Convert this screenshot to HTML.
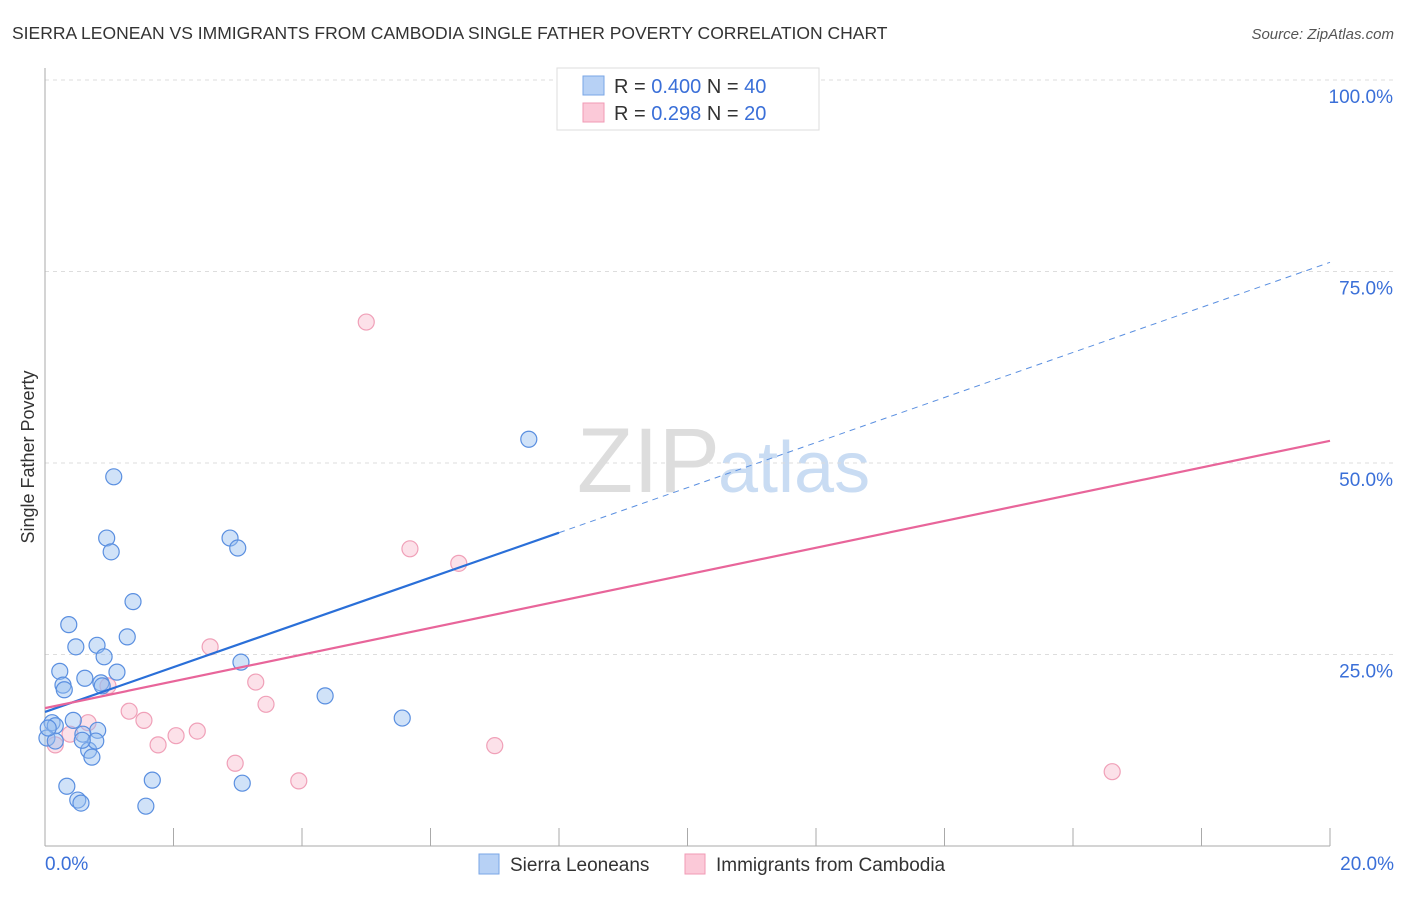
<!DOCTYPE html>
<html><head><meta charset="utf-8"><style>
body{margin:0;background:#fff;font-family:"Liberation Sans",sans-serif}
svg text{font-family:"Liberation Sans",sans-serif}
</style></head><body>
<svg id="c" width="1406" height="892" xmlns="http://www.w3.org/2000/svg">
<text x="12" y="39" font-size="17.5" fill="#333">SIERRA LEONEAN VS IMMIGRANTS FROM CAMBODIA SINGLE FATHER POVERTY CORRELATION CHART</text>
<text x="1394" y="39" font-size="15" fill="#555" font-style="italic" text-anchor="end">Source: ZipAtlas.com</text>
<text x="720" y="492" font-size="92" fill="#ddd" text-anchor="end" font-family="Liberation Serif">ZIP</text>
<text x="718" y="492" font-size="72" fill="#c9dcf3">atlas</text>
<text transform="translate(34,457) rotate(-90)" font-size="18" fill="#333" text-anchor="middle">Single Father Poverty</text>
<g id="grid"></g><g id="pts"></g><g id="lines"></g>
<g>
<rect x="557" y="68" width="262" height="62" fill="#fff" stroke="#ddd"/>
<rect x="583" y="76" width="21" height="19" fill="#b7d1f5" stroke="#7aa6e6"/>
<rect x="583" y="103" width="21" height="19" fill="#fbc9d8" stroke="#f09ab5"/>
<text x="614" y="93" font-size="20" fill="#333">R = <tspan fill="#3a6fd8">0.400</tspan>   N = <tspan fill="#3a6fd8">40</tspan></text>
<text x="614" y="120" font-size="20" fill="#333">R =  <tspan fill="#3a6fd8">0.298</tspan>   N = <tspan fill="#3a6fd8">20</tspan></text>
</g>
<g>
<rect x="479" y="854" width="20" height="20" fill="#b7d1f5" stroke="#7aa6e6"/>
<text x="510" y="871" font-size="19" fill="#333">Sierra Leoneans</text>
<rect x="685" y="854" width="20" height="20" fill="#fbc9d8" stroke="#f09ab5"/>
<text x="716" y="871" font-size="19" fill="#333">Immigrants from Cambodia</text>
</g>
</svg>
<script>
const blueX=[1.07,0.96,1.03,1.37,0.37,0.48,0.81,1.28,0.23,0.92,1.12,0.28,0.30,0.62,0.87,0.89,2.88,3.00,3.05,4.36,5.56,7.53,0.11,0.16,0.44,0.82,0.59,0.68,0.73,0.79,0.03,0.16,0.34,0.51,0.56,1.67,1.57,3.07,0.05,0.58];
const blueY=[48.2,40.2,38.4,31.9,28.9,26.0,26.2,27.3,22.8,24.7,22.7,21.0,20.4,21.9,21.3,20.9,40.2,38.9,24.0,19.6,16.7,53.1,16.1,15.7,16.4,15.1,14.6,12.5,11.6,13.7,14.1,13.7,7.8,6.0,5.6,8.6,5.2,8.2,15.4,13.8];
const pinkX=[9.03,5.0,5.68,6.44,2.57,3.28,3.44,1.31,1.54,0.67,1.76,2.04,2.37,2.96,3.95,7.0,16.61,0.39,0.16,0.98];
const pinkY=[100,68.4,38.8,36.9,26.0,21.4,18.5,17.6,16.4,16.1,13.2,14.4,15.0,10.8,8.5,13.1,9.7,14.6,13.2,20.9];
const blueTrend=[[0,17.5],[8.0,40.9],[20,76.2]];
const pinkTrend=[[0,18.0],[20,52.9]];
const yTicks=[25,50,75,100];
const yTickLabels=["25.0%","50.0%","75.0%","100.0%"];
const xTicks=[0,2,4,6,8,10,12,14,16,18,20];
const NS="http://www.w3.org/2000/svg";
const sx=v=>45+v*64.25, sy=v=>846-v*7.66;
function mk(p,t,a){const e=document.createElementNS(NS,t);for(const k in a)e.setAttribute(k,a[k]);p.appendChild(e);return e;}
const svg=document.getElementById('c'),grid=document.getElementById('grid'),pts=document.getElementById('pts'),lines=document.getElementById('lines');
yTicks.forEach((t,i)=>{
 const l=mk(grid,'line',{x1:45,x2:1394,y1:sy(t),y2:sy(t),stroke:'#ddd','stroke-dasharray':'4,4'});
 
 
 const tx=mk(grid,'text',{x:1393,y:sy(t)+23,'font-size':19,fill:'#3a6fd8','text-anchor':'end'});
 tx.textContent=yTickLabels[i];
 
 
});
mk(grid,'line',{x1:45,x2:45,y1:68,y2:846,stroke:'#aaa'});
mk(grid,'line',{x1:45,x2:1330,y1:846,y2:846,stroke:'#aaa'});
xTicks.forEach(t=>{const l=mk(grid,'line',{x1:sx(t),x2:sx(t),y1:828,y2:846,stroke:'#aaa'});
 
 });
const xl0=mk(grid,'text',{x:45,y:870,'font-size':19,fill:'#3a6fd8'});xl0.textContent='0.0%';


const xl1=mk(grid,'text',{x:1394,y:870,'font-size':19,fill:'#3a6fd8','text-anchor':'end'});xl1.textContent='20.0%';


pinkX.forEach((x,i)=>{const c=mk(pts,'circle',{cx:sx(x),cy:sy(pinkY[i]),r:8,fill:'rgba(248,180,200,0.4)',stroke:'#f0a0b8','stroke-width':1.2});
 
 });
blueX.forEach((x,i)=>{const c=mk(pts,'circle',{cx:sx(x),cy:sy(blueY[i]),r:8,fill:'rgba(150,190,240,0.45)',stroke:'#5a8fe0','stroke-width':1.2});
 
 });
const bs=mk(lines,'line',{x1:sx(blueTrend[0][0]),y1:sy(blueTrend[0][1]),x2:sx(blueTrend[1][0]),y2:sy(blueTrend[1][1]),stroke:'#2a6fd8','stroke-width':2.2});


const bd=mk(lines,'line',{x1:sx(blueTrend[1][0]),y1:sy(blueTrend[1][1]),x2:sx(blueTrend[2][0]),y2:sy(blueTrend[2][1]),stroke:'#5a8fe0','stroke-width':1,'stroke-dasharray':'6,5'});


const ps=mk(lines,'line',{x1:sx(pinkTrend[0][0]),y1:sy(pinkTrend[0][1]),x2:sx(pinkTrend[1][0]),y2:sy(pinkTrend[1][1]),stroke:'#e8659a','stroke-width':2.2});


</script>
</body></html>
